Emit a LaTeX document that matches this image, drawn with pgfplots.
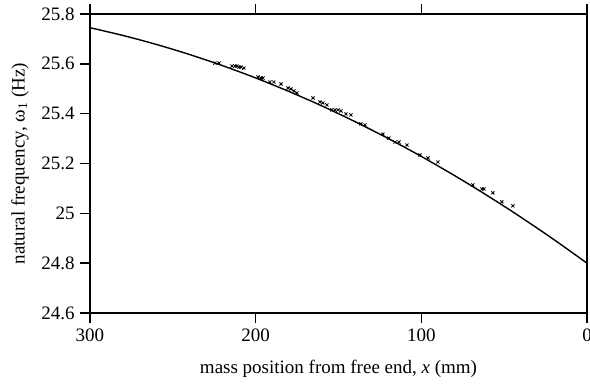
\documentclass[border=0pt]{standalone}
\usepackage{pgfplots}
\pgfplotsset{compat=1.18}
\usepackage{fontspec}
\setmainfont{Liberation Serif}
\begin{document}
\fontsize{9.5}{11.5}\selectfont
\begin{tikzpicture}
\begin{axis}[
  width=248.5pt, height=149.5pt, scale only axis,
  x dir=reverse,
  xmin=0, xmax=300, ymin=24.6, ymax=25.8,
  xtick={0,100,200,300},
  ytick={24.6,24.8,25,25.2,25.4,25.6,25.8},
  yticklabels={24.6,24.8,25,25.2,25.4,25.6,25.8},
  tick align=outside, major tick length=5pt,
  xtick pos=both, ytick pos=left,
  axis line style={line width=0.7pt},
  every tick/.style={line width=0.7pt, black},
  /pgf/number format/assume math mode=true,
  ticklabel style={font=\fontsize{9.5}{11.5}\selectfont},
  yticklabel style={inner sep=1pt, xshift=-1.5pt},
  xticklabel style={inner sep=1.5pt, yshift=-1pt},
  xlabel={mass position from free end, \textit{x} (mm)},
  ylabel={natural frequency, ω\textsubscript{1} (Hz)},
  every axis x label/.style={at={(axis description cs:0.5,-0.188)}, anchor=center},
  every axis y label/.style={at={(axis description cs:-0.1408,0.5)}, rotate=90, anchor=center},
  clip=false,
]
\addplot[black, line width=0.7pt, smooth, no marks] coordinates {
(0,24.800) (20,24.8947) (40,24.9849) (60,25.0706) (80,25.1517) (100,25.2283)
(120,25.3004) (140,25.3679) (160,25.4309) (180,25.4894) (200,25.5433)
(220,25.5927) (240,25.6376) (260,25.6779) (280,25.7137) (300,25.7450)
};
\addplot[only marks, mark=x, mark size=1.1pt, black, mark options={line width=0.4pt}] coordinates {
(224.6,25.603) (222.1,25.603) (214.3,25.591) (212.5,25.591) (211.3,25.591)
(210.1,25.587) (208.9,25.587) (207.1,25.583) (198.6,25.547) (196.8,25.543)
(195.6,25.543) (191.4,25.527) (189.0,25.527) (184.7,25.519) (180.5,25.503)
(178.7,25.499) (176.9,25.491) (175.1,25.483) (165.4,25.463) (161.2,25.447)
(159.4,25.443) (157.0,25.435) (154.0,25.415) (152.1,25.415) (150.3,25.415)
(148.5,25.411) (145.5,25.399) (142.5,25.395) (136.5,25.359) (134.0,25.355)
(123.2,25.318) (119.6,25.302) (115.9,25.286) (113.5,25.286) (108.7,25.274)
(100.8,25.234) (96.0,25.222) (90.0,25.206) (68.9,25.114) (63.4,25.098)
(62.2,25.098) (56.8,25.082) (51.4,25.046) (44.7,25.030)
};
\coordinate (bl) at (rel axis cs:0,0);
\coordinate (tr) at (rel axis cs:1,1);
\end{axis}
\pgfresetboundingbox
\path[use as bounding box] ([xshift=-45pt,yshift=-35.5pt]bl) rectangle ([xshift=1.5pt,yshift=7pt]tr);
\end{tikzpicture}
\end{document}
